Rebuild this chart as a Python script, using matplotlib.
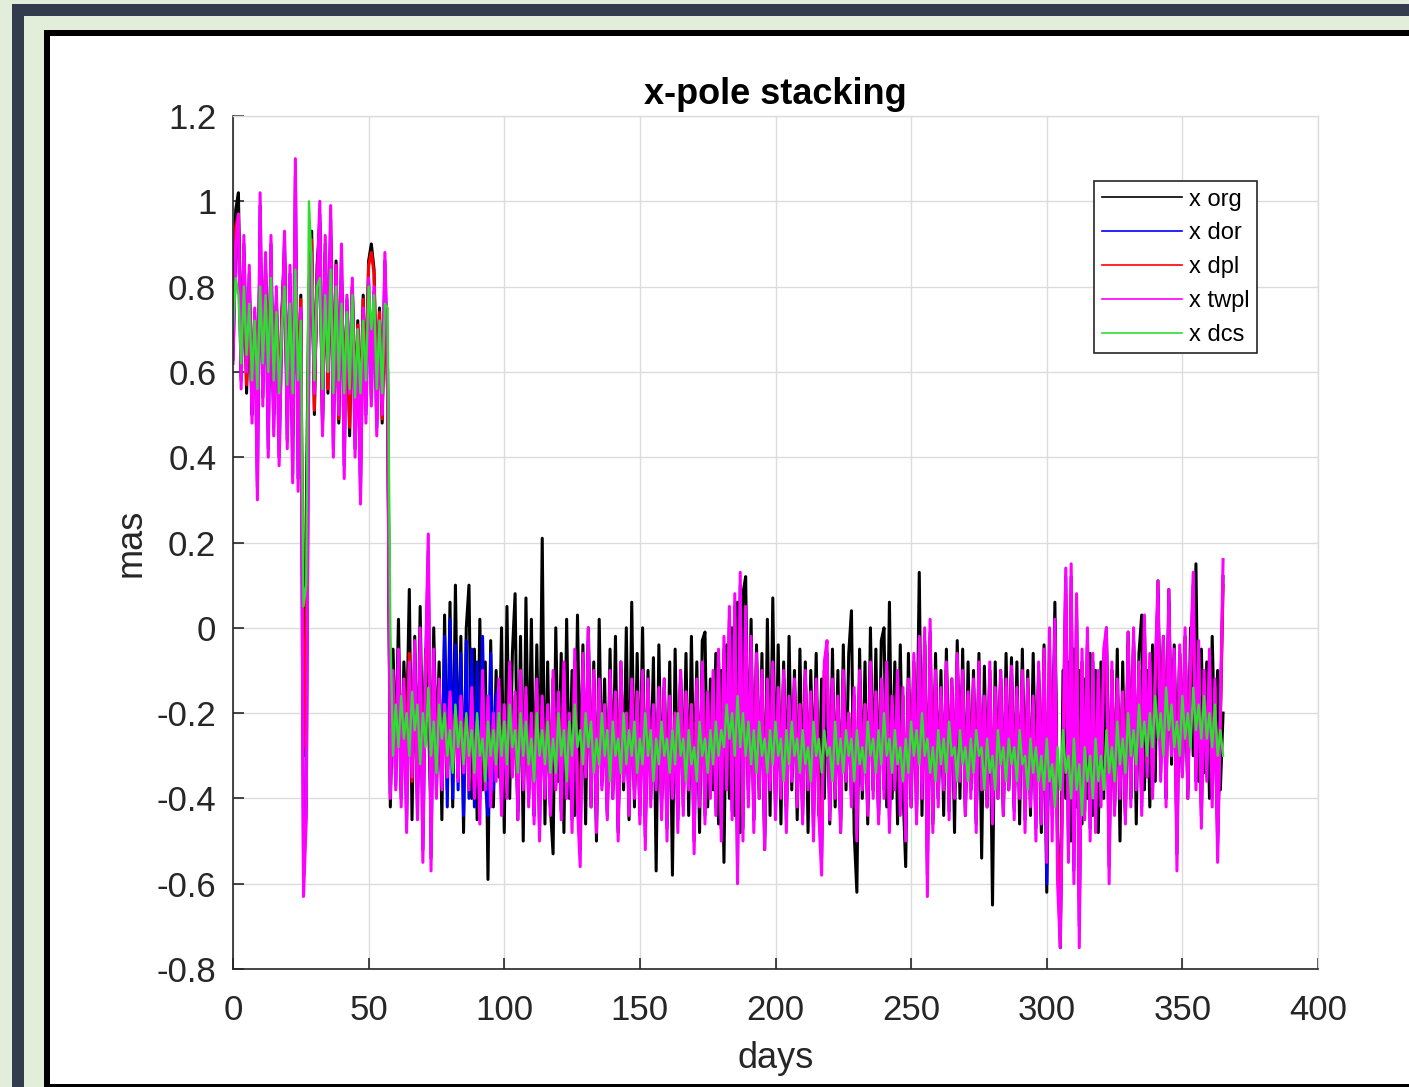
import numpy as np
import matplotlib
matplotlib.use("Agg")
import matplotlib.pyplot as plt
from matplotlib.patches import Rectangle
from matplotlib.ticker import FormatStrFormatter

plt.rcParams['font.family'] = ['Liberation Sans', 'DejaVu Sans']
plt.rcParams['axes.unicode_minus'] = False

# x-pole series, one value per day (day 0 .. 365), in 1/100 mas
org = [
    70, 98, 102, 60, 88, 55, 80, 50, 72, 45, 90, 58, 84, 52, 86, 50, 76, 48, 74, 88, 50, 80, 45, 92, 50, 78,
    -30, 27,
    80, 93, 50, 85, 95, 48, 88, 55, 92, 50, 86, 48, 82, 52, 75, 45, 80, 50, 72, 48, 78, 55, 86, 90, 84, 52, 75, 48, 82, 55,
    -42, -5, -30, 2, -38, -8, -25, 9, -45, -2,
    -40, 5, -35, -5, -20, -44, 0, -30, -8, -45,
    3, -38, 6, -42, 10, -35, -2, -48, 0, 10,
    -40, -5, -45, 2, -38, -8, -59, -3, -42, -10,
    -35, 0, -48, 5, -40, -6, 8, -45, -2, -50,
    7, -38, 2, -44, -4, -40, 21, -46, -8, -42,
    -53, 0, -36, -6, -48, 2, -40, -10, -44, 3,
    -38, -4, -46, 0, -42, -8, -50, 2, -36, -12,
    -44, -5, -40, -2, -48, -8, -38, 0, -45, 6,
    -42, -6, -40, 0, -44, -10, -36, -7, -57, -4,
    -40, -12, -46, -8, -58, -5, -42, -10, -38, -6,
    -44, -2, -40, -8, -48, -3, -1, -42, -12, -38,
    -6, -46, -10, -55, -4, -40, 0, -44, 6, -48,
    8, 12, -38, 2, -45, -4, -40, -6, -52, 2,
    -44, 7, -40, -4, -46, -8, -42, -2, -38, -10,
    -45, -5, -40, -8, -48, -10, -36, -6, -44, -12,
    -40, -8, -46, -5, -42, -10, -48, -4, -38, -6,
    4, -48, -62, -5, -40, -8, -46, 0, -38, -5,
    -44, -3, 0, -42, 6, -40, -8, -46, -4, -38,
    -56, -6, -42, -10, -36, 13, -44, -4, -40, -8,
    -46, -6, -40, -10, -44, -5, -38, -12, -48, -3,
    -40, -5, -44, -8, -38, -10, -46, -6, -54, -9,
    -42, -12, -65, -8, -40, -10, -44, -6, -38, -7,
    -42, -8, -46, -5, -40, -10, -44, -6, -38, -12,
    -48, -4, -62, -8, -40, 6, -50, -75, -10, -40,
    -8, -50, -5, -42, -10, -46, -12, -40, -6, -44,
    -10, -48, -8, -40, 0, -46, -10, -42, -5, -50,
    -8, -44, -1, -40, -3, -46, -6, 3, -38, -10,
    -42, -4, -36, 11, -30, -2, -40, 9, -32, -4,
    -38, -6, -34, -2, -40, 0, -30, 15, -36, -5,
    -34, -8, -40, -2, -30, -10, -38, -20,
]

dor = [
    63, 88, 95, 58, 90, 61, 83, 50, 74, 33, 99, 54, 86, 42, 90, 47, 78, 40, 70, 91, 44, 83, 36, 106, 35, 74,
    -58, -42,
    70, 86, 57, 79, 97, 47, 90, 61, 96, 42, 83, 52, 88, 38, 77, 56, 80, 42, 70, 32, 74, 50, 81, 54, 79, 47, 72, 52, 86, 60,
    -39, -12, -37, -8, -40, -14, -45, -10, -34, -6,
    -43, -3, -52, -10, 18, -54, -8, -38, -14, -37,
    -2, -42, 2, -40, -4, -38, -6, -44, -3, -40,
    -5, -42, -8, -40, -2, -36, -44, -6, -38, -16,
    -14, -42, -19, -38, -10, -34, -17, -43, -12, -37,
    -16, -40, -21, -44, -14, -47, -18, -39, -19, -42,
    -12, -37, -17, -43, -10, -39, -21, -45, -8, -40,
    -52, -8, -34, -3, -40, -12, -45, -14, -37, -19,
    -43, -12, -38, -17, -47, -10, -35, -21, -42, -14,
    -38, -17, -44, -12, -49, -14, -40, -19, -37, -16,
    -43, -14, -47, -18, -39, -21, -45, -12, -42, -17,
    -37, -19, -50, -14, -40, -10, -44, -17, -38, -12,
    -42, -8, -47, -5, -37, 2, -43, 5, -56, 10,
    -47, 2, -40, -5, -45, -8, -38, -12, -49, -14,
    -37, -10, -43, -16, -38, -12, -45, -17, -35, -14,
    -40, -19, -44, -12, -37, -17, -47, -14, -42, -54,
    -10, -6, -43, -14, -38, -18, -45, -12, -35, -21,
    -40, -16, -47, -12, -37, -19, -42, -10, -38, -17,
    -44, -14, -38, -10, -45, -18, -37, -12, -42, -16,
    -47, -14, -40, -8, -44, -5, -38, -3, -58, -1,
    -45, -12, -40, -16, -37, -10, -43, -14, -38, -8,
    -35, -12, -42, -17, -38, -14, -45, -10, -37, -18,
    -40, -10, -44, -16, -38, -12, -42, -14, -37, -11,
    -43, -16, -38, -12, -45, -14, -40, -18, -47, -10,
    -46, -8, -60, -12, -40, 2, -48, -70, -28, 12,
    -52, 12, -57, 5, -70, -8, -43, -3, -47, -8,
    -45, -12, -40, -8, -3, -56, -10, -42, -14, -38,
    -17, -44, -4, -40, -3, -37, -10, -42, 0, -34,
    -8, -38, -12, 8, -34, -5, -40, 6, -29, -7,
    -53, -6, -34, -3, -38, -10, 10, -36, -6, -44,
    -12, -35, -8, -40, -14, -51, -21, 12,
]

dpl = [
    71, 94, 97, 61, 87, 57, 79, 53, 73, 47, 89, 59, 83, 54, 85, 51, 76, 49, 73, 87, 51, 79, 47, 91, 51, 77,
    -28, 0,
    79, 91, 51, 83, 93, 49, 87, 56, 91, 51, 85, 49, 81, 53, 75, 47, 79, 51, 71, 49, 77, 55, 85, 88, 83, 53, 74, 49, 81, 55,
    -36, -12, -30, -8, -34, -14, -28, -6, -36, -10,
    -38, -6, -42, -12, 10, -44, -10, -34, -14, -36,
    -18, -34, -16, -32, -20, -35, -17, -33, -21, -36,
    -16, -38, -22, -40, -14, -36, -18, -38, -22, -34,
    -14, -40, -20, -36, -10, -34, -16, -40, -12, -36,
    -16, -38, -22, -40, -14, -42, -18, -36, -20, -40,
    -12, -36, -18, -40, -10, -38, -22, -42, -8, -38,
    -46, -10, -34, -6, -38, -12, -42, -14, -36, -20,
    -40, -12, -38, -16, -44, -10, -34, -20, -40, -14,
    -38, -16, -42, -12, -46, -14, -38, -20, -36, -16,
    -40, -14, -44, -18, -38, -20, -42, -12, -40, -16,
    -36, -18, -46, -14, -38, -12, -42, -16, -38, -12,
    -40, -8, -44, -6, -36, 0, -40, 2, -50, 6,
    -44, 0, -38, -6, -42, -8, -36, -12, -46, -14,
    -36, -10, -40, -16, -36, -12, -42, -18, -34, -14,
    -38, -18, -42, -12, -36, -16, -44, -14, -40, -50,
    -10, -8, -40, -14, -36, -18, -42, -12, -34, -20,
    -38, -16, -44, -12, -36, -18, -40, -10, -36, -16,
    -42, -14, -36, -10, -42, -18, -36, -12, -40, -16,
    -44, -14, -38, -8, -42, -6, -36, -4, -54, -2,
    -42, -12, -38, -16, -36, -10, -40, -14, -36, -8,
    -34, -12, -40, -16, -36, -14, -42, -10, -36, -18,
    -38, -10, -42, -16, -36, -12, -40, -14, -36, -11,
    -40, -16, -36, -12, -42, -14, -38, -18, -44, -10,
    -42, -8, -50, -4, -44, -2, -52, -64, -28, 8,
    -48, 8, -52, 2, -64, -8, -40, -4, -44, -10,
    -42, -12, -38, -8, -4, -52, -10, -40, -14, -36,
    -16, -42, -4, -38, -4, -34, -10, -40, 0, -32,
    -8, -36, -12, 6, -32, -4, -38, 4, -28, -8,
    -50, -6, -32, -3, -36, -10, 8, -34, -6, -42,
    -12, -32, -8, -38, -14, -48, -22, 10,
]

twpl = [
    62, 90, 97, 56, 92, 60, 85, 48, 75, 30, 102, 52, 88, 40, 92, 45, 80, 38, 70, 93, 42, 85, 34, 110, 32, 75,
    -63, -45,
    70, 88, 55, 80, 100, 45, 92, 60, 99, 40, 85, 50, 90, 35, 78, 55, 82, 40, 70, 29, 75, 48, 82, 52, 80, 45, 72, 50, 88, 60,
    -40, -10, -38, -5, -42, -12, -48, -8, -35, -3,
    -45, 0, -55, -8, 22, -57, -5, -40, -12, -38,
    -18, -35, -15, -32, -20, -36, -16, -34, -22, -38,
    -14, -40, -22, -46, -10, -38, -16, -42, -20, -36,
    -12, -44, -18, -40, -8, -35, -15, -45, -10, -38,
    -14, -42, -20, -46, -12, -50, -16, -40, -18, -44,
    -10, -38, -15, -45, -8, -40, -20, -48, -5, -42,
    -56, -6, -35, 0, -42, -10, -48, -12, -38, -18,
    -45, -10, -40, -15, -50, -8, -36, -20, -44, -12,
    -40, -15, -46, -10, -52, -12, -42, -18, -38, -14,
    -45, -12, -50, -16, -40, -20, -48, -10, -44, -15,
    -38, -18, -53, -12, -42, -8, -46, -15, -40, -10,
    -44, -5, -50, -2, -38, 5, -45, 8, -60, 13,
    -50, 5, -42, -2, -48, -6, -40, -10, -52, -12,
    -38, -8, -45, -14, -40, -10, -48, -16, -36, -12,
    -42, -18, -46, -10, -38, -15, -50, -12, -44, -58,
    -8, -3, -45, -12, -40, -16, -48, -10, -36, -20,
    -42, -14, -50, -10, -38, -18, -44, -8, -40, -15,
    -46, -12, -40, -8, -48, -16, -38, -10, -44, -14,
    -50, -12, -42, -6, -46, -2, -40, 0, -63, 2,
    -48, -10, -42, -14, -38, -8, -45, -12, -40, -6,
    -36, -10, -44, -15, -40, -12, -48, -8, -38, -16,
    -42, -8, -46, -14, -40, -10, -44, -12, -38, -9,
    -45, -14, -40, -10, -48, -12, -42, -16, -50, -8,
    -46, -5, -55, 0, -50, 2, -60, -75, -30, 14,
    -55, 15, -60, 8, -75, -5, -45, 0, -50, -6,
    -48, -10, -42, -5, 0, -60, -8, -44, -12, -40,
    -15, -46, -1, -42, 0, -38, -8, -44, 3, -35,
    -6, -40, -10, 11, -36, -2, -42, 9, -30, -5,
    -57, -4, -35, 0, -40, -8, 13, -38, -3, -47,
    -10, -36, -5, -42, -12, -55, -20, 16,
]

dcs = [
    70, 82, 78, 62, 80, 64, 76, 58, 72, 56, 80, 62, 78, 60, 82, 58, 74, 55, 70, 80, 57, 76, 55, 84, 58, 72,
    5, 10,
    100, 85, 58, 80, 82, 56, 78, 60, 84, 55, 80, 58, 76, 55, 74, 56, 78, 54, 70, 55, 72, 58, 80, 70, 78, 56, 72, 55, 76, 75,
    0, -30, -18, -28, -16, -26, -20, -30, -15, -24,
    -18, -32, -20, -28, -14, -30, -22, -34, -18, -26,
    -20, -30, -24, -34, -18, -28, -22, -32, -20, -30,
    -24, -34, -20, -30, -26, -36, -22, -30, -24, -32,
    -20, -30, -22, -32, -18, -28, -24, -34, -20, -30,
    -22, -32, -26, -36, -20, -30, -24, -32, -22, -34,
    -26, -34, -20, -30, -24, -36, -22, -30, -18, -28,
    -24, -32, -20, -28, -22, -34, -26, -32, -20, -30,
    -24, -36, -22, -30, -26, -34, -20, -32, -24, -30,
    -22, -34, -26, -32, -20, -30, -24, -36, -26, -32,
    -22, -30, -26, -34, -24, -32, -20, -30, -26, -36,
    -24, -32, -28, -36, -22, -30, -26, -34, -24, -32,
    -22, -30, -24, -28, -18, -26, -20, -30, -16, -28,
    -20, -30, -22, -32, -24, -34, -22, -30, -26, -34,
    -24, -32, -22, -30, -26, -36, -24, -32, -22, -30,
    -26, -34, -24, -32, -28, -36, -22, -30, -26, -34,
    -24, -30, -28, -36, -22, -32, -26, -34, -24, -30,
    -26, -36, -24, -32, -28, -34, -22, -30, -26, -34,
    -24, -32, -20, -30, -26, -34, -24, -32, -28, -36,
    -26, -34, -22, -30, -24, -32, -20, -30, -26, -34,
    -28, -36, -24, -32, -26, -34, -22, -30, -28, -36,
    -24, -32, -28, -36, -26, -34, -24, -30, -28, -38,
    -26, -34, -30, -38, -24, -32, -28, -36, -26, -32,
    -28, -36, -24, -32, -30, -38, -26, -34, -28, -36,
    -30, -38, -26, -36, -32, -42, -28, -38, -24, -34,
    -30, -40, -26, -38, -32, -44, -28, -36, -30, -40,
    -26, -36, -30, -38, -24, -34, -28, -36, -22, -32,
    -26, -34, -20, -30, -24, -32, -18, -28, -22, -30,
    -20, -28, -16, -26, -20, -30, -14, -24, -18, -28,
    -22, -30, -16, -26, -20, -28, -14, -24, -18, -26,
    -16, -26, -20, -28, -18, -30, -24, -30,
]

series = [
    (org, 'x org', 'black', 2.2),
    (dor, 'x dor', 'blue', 2.2),
    (dpl, 'x dpl', 'red', 2.2),
    (twpl, 'x twpl', 'magenta', 2.2),
    (dcs, 'x dcs', '#2fdc2f', 1.7),
]

xticks = [0, 50, 100, 150, 200, 250, 300, 350, 400]
yticks = [-0.8, -0.6, -0.4, -0.2, 0, 0.2, 0.4, 0.6, 0.8, 1, 1.2]

W, H = 1409, 1087
fig = plt.figure(figsize=(W / 100, H / 100), dpi=100)
fig.patch.set_facecolor('#e2eed9')


def frame(x0, y0, x1, y1, color):
    fig.add_artist(Rectangle((x0 / W, 1 - y1 / H), (x1 - x0) / W, (y1 - y0) / H,
                             transform=fig.transFigure, facecolor=color,
                             edgecolor='none', zorder=-10))


frame(12, 4, 1430, 1100, '#323c4e')
frame(24, 16, 1430, 1100, '#e2eed9')
frame(44, 30, 1430, 1100, 'black')
frame(50, 36, 1430, 1084, 'white')

ax = fig.add_axes([233 / W, 1 - 969 / H, (1318 - 233) / W, (969 - 116) / H])
ax.set_facecolor('white')

for vals, name, col, lw in series:
    y = np.array(vals) / 100.0
    ax.plot(np.arange(len(y)), y, color=col, lw=lw, label=name)

ax.set_xlim(0, 400)
ax.set_ylim(-0.8, 1.2)
ax.set_xticks(xticks)
ax.set_yticks(yticks)
ax.yaxis.set_major_formatter(FormatStrFormatter('%g'))
ax.grid(True, color='#dcdcdc', lw=1)
ax.set_axisbelow(True)

for s in ['left', 'bottom']:
    ax.spines[s].set_color('#262626')
    ax.spines[s].set_linewidth(1.2)
for s in ['top', 'right']:
    ax.spines[s].set_color('#dcdcdc')
    ax.spines[s].set_linewidth(1)
ax.tick_params(direction='in', length=8, width=1.2, colors='#262626', labelsize=25)
ax.tick_params(axis='x', pad=18)
ax.tick_params(axis='y', pad=12)

ax.set_title('x-pole stacking', fontsize=26, fontweight='bold', color='black', pad=9)
ax.set_xlabel('days', fontsize=26, color='#262626', labelpad=10)
ax.set_ylabel('mas', fontsize=26, color='#262626', labelpad=6)

leg = ax.legend(loc='upper left', bbox_to_anchor=(1094 / W, 1 - 181 / H),
                bbox_transform=fig.transFigure, borderaxespad=0,
                fontsize=17, handlelength=3.4, handletextpad=0.3,
                labelspacing=0.5, borderpad=0.32, fancybox=False,
                framealpha=1)
leg.get_frame().set_edgecolor('#262626')
leg.get_frame().set_linewidth(1.2)
for line in leg.get_lines():
    line.set_linewidth(1.2)

fig.savefig('out.png', dpi=100, facecolor=fig.get_facecolor())
